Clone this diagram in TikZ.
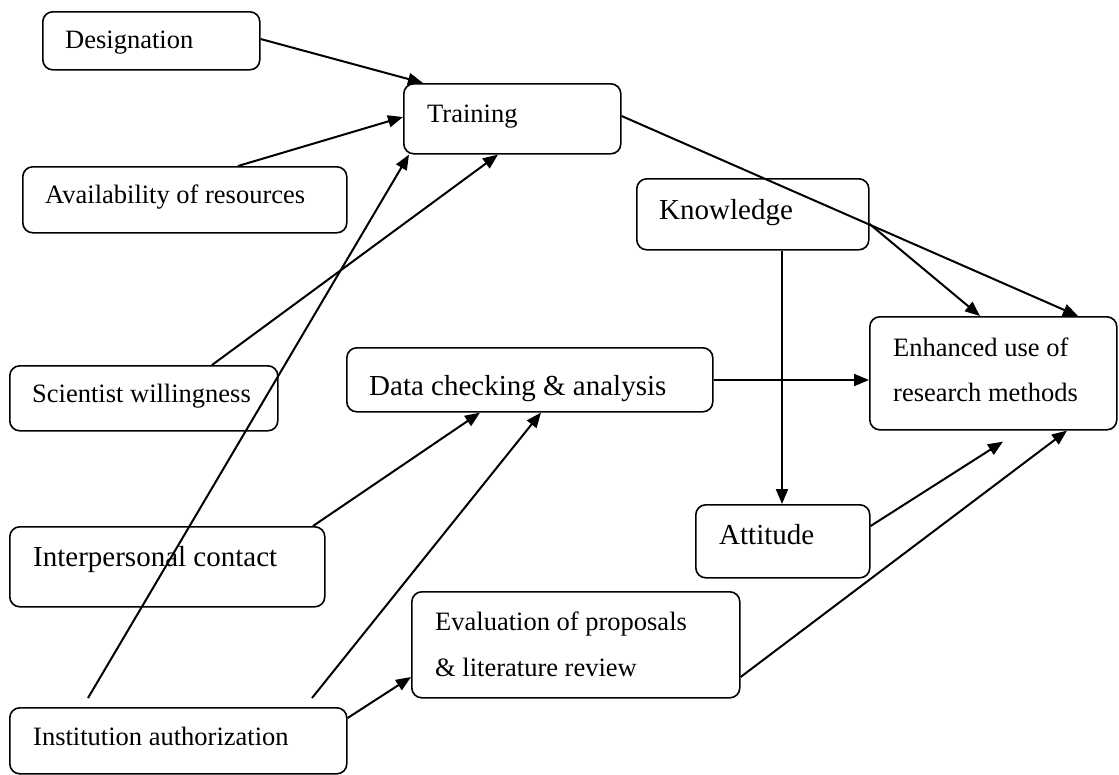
\documentclass[tikz,border=0pt]{standalone}
\usepackage{fontspec}
\setmainfont{Liberation Serif}
\usetikzlibrary{arrows.meta,calc}
\begin{document}
\begin{tikzpicture}[x=1pt,y=-1pt,
  box/.style={draw=black,line width=1.6pt,rounded corners=10pt,anchor=north west,inner sep=0pt},
  lbl/.style={anchor=base west,inner sep=0pt,font=\fontsize{26.5}{30}\selectfont},
  lblbig/.style={anchor=base west,inner sep=0pt,font=\fontsize{29}{33}\selectfont},
  arr/.style={line width=2pt,-{Triangle[length=15pt,width=12pt]}},
  ln/.style={line width=2pt}]
\useasboundingbox (0,0) rectangle (1119,774);
% boxes
\node[box,minimum width=217pt,minimum height=58pt] (des) at (42,11) {};
\node[box,minimum width=217pt,minimum height=70pt] (tr) at (403,83) {};
\node[box,minimum width=324pt,minimum height=66pt] (av) at (22,166) {};
\node[box,minimum width=232pt,minimum height=71pt] (kn) at (636,178) {};
\node[box,minimum width=268pt,minimum height=65pt] (sci) at (9,365) {};
\node[box,minimum width=366pt,minimum height=64pt] (dat) at (346,347) {};
\node[box,minimum width=247pt,minimum height=113pt] (enh) at (869,316) {};
\node[box,minimum width=315pt,minimum height=80pt] (int) at (9,526) {};
\node[box,minimum width=174pt,minimum height=73pt] (att) at (695,504) {};
\node[box,minimum width=328pt,minimum height=106pt] (eva) at (411,591) {};
\node[box,minimum width=337pt,minimum height=66pt] (ins) at (9,707) {};
% labels
\node[lbl] (des-t) at (65,48) {Designation};
\node[lbl] (tr-t) at (427,122) {Training};
\node[lbl] (av-t) at (45,203) {Availability of resources};
\node[lblbig] (kn-t) at (659,219) {Knowledge};
\node[lbl] (sci-t) at (32,402) {Scientist willingness};
\node[lblbig] (dat-t) at (369,395) {Data checking \& analysis};
\node[lbl] (enh-t1) at (893,356) {Enhanced use of};
\node[lbl] (enh-t2) at (893,401) {research methods};
\node[lblbig] (int-t) at (33,566) {Interpersonal contact};
\node[lblbig] (att-t) at (719,544) {Attitude};
\node[lbl] (eva-t1) at (435,630) {Evaluation of proposals};
\node[lbl] (eva-t2) at (435,676) {\& literature review};
\node[lbl] (ins-t) at (33,745) {Institution authorization};
% connectors
\draw[arr] ($(des.north east)+(0,28)$) -- ($(tr.north west)+(20,0)$);
\draw[arr] ($(av.north west)+(216,0)$) -- ($(tr.north west)+(0,34)$);
\draw[arr] ($(sci.north west)+(203,0)$) -- ($(tr.south west)+(95,0)$);
\draw[arr] ($(ins.north west)+(79,-9)$) -- ($(tr.south west)+(6,0)$);
\draw[arr] ($(int.north west)+(304,0)$) -- ($(dat.south west)+(134,0)$);
\draw[arr] ($(ins.north west)+(303,-9)$) -- ($(dat.south west)+(195,0)$);
\draw[arr] ($(ins.north east)+(0,11)$) -- ($(eva.north west)+(0,86)$);
\draw[arr] ($(tr.north east)+(0,33)$) -- ($(enh.north west)+(209,0)$);
\draw[arr] ($(kn.north east)+(0,46)$) -- ($(enh.north west)+(111,0)$);
\draw[arr] ($(kn.south west)+(146,0)$) -- ($(att.north west)+(87,0)$);
\draw[arr] ($(dat.north east)+(0,33)$) -- ($(enh.north west)+(0,64)$);
\draw[arr] ($(att.north east)+(0,22)$) -- ($(enh.south west)+(134,11)$);
\draw[arr] ($(eva.north east)+(0,86)$) -- ($(enh.south west)+(198,0)$);
\end{tikzpicture}
\end{document}
